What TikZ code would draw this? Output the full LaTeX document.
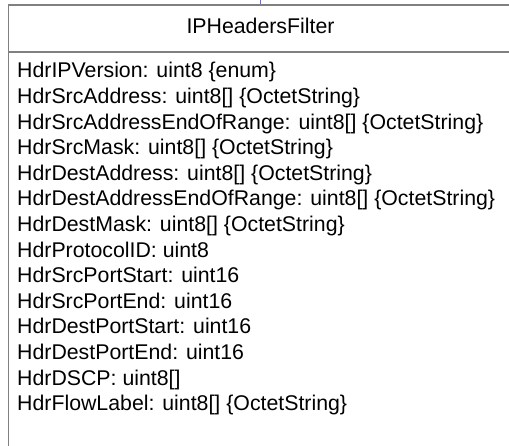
\documentclass[tikz,border=0pt]{standalone}
\usepackage{fontspec}
\setmainfont{Liberation Sans}
\definecolor{umlgray}{RGB}{128,128,128}
\definecolor{linkblue}{RGB}{100,100,255}
\tikzset{
	classbox/.style={draw=umlgray, line width=1.6pt, minimum width=504pt, minimum height=520pt, anchor=north, inner sep=0pt},
	divider/.style={draw=umlgray, line width=1.6pt},
	linkline/.style={draw=linkblue, line width=1.8pt},
	classname/.style={anchor=base, inner sep=0pt, font=\fontsize{21.3}{25.6}\selectfont},
	attr/.style={anchor=base west, inner sep=0pt, font=\fontsize{21.3}{25.6}\selectfont}
}
\begin{document}
\begin{tikzpicture}[x=1pt, y=1pt]
	\useasboundingbox (0,0) rectangle (509,-446);
	\clip (0,0) rectangle (509,-446);
	
	% Class box
	\node[classbox] (filter) at (260.5,-4.5) {};
	\draw[divider] ([yshift=-47.5pt]filter.north west) -- ([yshift=-47.5pt]filter.north east);
	
	% Incoming link
	\coordinate (link) at (260.5,20);
	\draw[linkline] (link) -- (filter.north);
	
	% Class name
	\node[classname] (name) at (260.5,-33.5) {IPHeadersFilter};
	
	% Attributes
	\foreach \txt [count=\i] in {
		{HdrIPVersion: uint8 \{enum\}},
		{HdrSrcAddress: uint8[] \{OctetString\}},
		{HdrSrcAddressEndOfRange: uint8[] \{OctetString\}},
		{HdrSrcMask: uint8[] \{OctetString\}},
		{HdrDestAddress: uint8[] \{OctetString\}},
		{HdrDestAddressEndOfRange: uint8[] \{OctetString\}},
		{HdrDestMask: uint8[] \{OctetString\}},
		{HdrProtocolID: uint8},
		{HdrSrcPortStart: uint16},
		{HdrSrcPortEnd: uint16},
		{HdrDestPortStart: uint16},
		{HdrDestPortEnd: uint16},
		{HdrDSCP: uint8[]},
		{HdrFlowLabel: uint8[] \{OctetString\}}}
		\node[attr] (attr\i) at (17,{-78-(\i-1)*25.6}) {\txt};
	
\end{tikzpicture}
\end{document}
